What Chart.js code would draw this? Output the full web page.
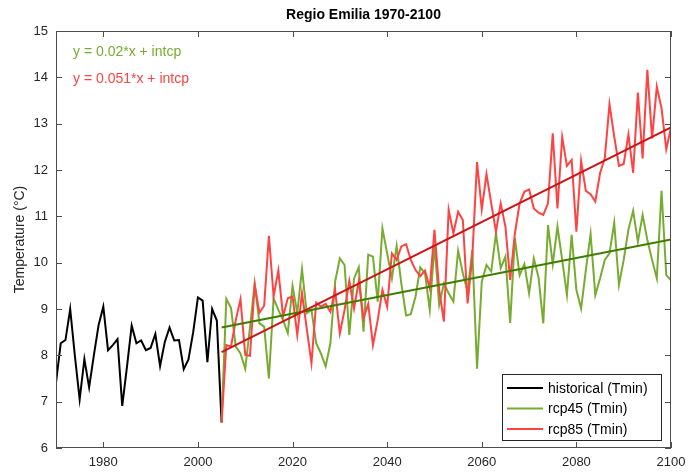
<!DOCTYPE html>
<html>
<head>
<meta charset="utf-8">
<script src="https://cdn.jsdelivr.net/npm/chart.js@4"></script>
<style>
  html, body { margin: 0; padding: 0; background: #fff; }
</style>
</head>
<body>
<canvas id="chartTmin" width="688" height="474"></canvas>
<script>
/*********************************/
// Regio Emilia Tmin chart       //
/*********************************/

// years
var histYears = [1970,1971,1972,1973,1974,1975,1976,1977,1978,1979,
  1980,1981,1982,1983,1984,1985,1986,1987,1988,1989,
  1990,1991,1992,1993,1994,1995,1996,1997,1998,1999,
  2000,2001,2002,2003,2004,2005];
var scenYears = [2005,2006,2007,2008,2009,2010,2011,2012,2013,2014,
  2015,2016,2017,2018,2019,2020,2021,2022,2023,2024,
  2025,2026,2027,2028,2029,2030,2031,2032,2033,2034,
  2035,2036,2037,2038,2039,2040,2041,2042,2043,2044,
  2045,2046,2047,2048,2049,2050,2051,2052,2053,2054,
  2055,2056,2057,2058,2059,2060,2061,2062,2063,2064,
  2065,2066,2067,2068,2069,2070,2071,2072,2073,2074,
  2075,2076,2077,2078,2079,2080,2081,2082,2083,2084,
  2085,2086,2087,2088,2089,2090,2091,2092,2093,2094,
  2095,2096,2097,2098,2099,2100];

// series values (deg C)
var historical = [7.41,8.26,8.33,9.0,7.98,7.05,7.92,7.31,8.0,8.65,
  9.05,8.11,8.22,8.35,6.91,7.75,8.64,8.26,8.32,8.11,
  8.16,8.46,7.77,8.29,8.6,8.32,8.33,7.7,7.91,8.5,
  9.25,9.18,7.85,9.0,8.75,6.55];
var rcp45 = [6.55,9.22,9.02,8.19,8.04,7.71,8.6,9.55,8.69,8.62,
  7.5,9.23,8.98,8.76,8.48,9.5,8.91,9.86,8.91,8.98,
  8.26,8.04,7.76,8.26,9.59,10.09,9.95,8.44,9.66,9.9,
  8.51,10.17,10.13,9.16,10.74,10.2,9.66,10.36,9.55,8.86,
  8.89,9.27,9.9,9.77,8.98,10.38,9.09,9.55,9.34,9.16,
  10.26,9.77,9.37,10.27,7.71,9.59,9.95,9.81,10.63,9.88,
  10.13,8.7,10.53,9.73,9.97,9.34,10.09,9.68,8.69,10.81,
  9.97,10.78,10.06,9.3,10.6,9.41,9.01,9.84,10.62,9.3,
  9.66,10.06,10.2,10.86,9.52,10.06,10.71,11.12,10.45,11.03,
  10.49,10.06,9.66,11.55,9.73,9.62];
var rcp85 = [6.55,8.22,8.19,8.76,9.21,8.01,7.99,9.52,8.92,9.07,
  10.58,9.27,9.83,8.84,9.23,9.27,8.44,9.34,8.58,7.83,
  9.14,9.05,9.11,8.94,9.41,8.47,8.98,9.61,9.01,9.6,
  8.8,9.11,8.22,8.76,9.41,9.05,10.2,10.06,10.35,10.4,
  10.06,9.84,9.71,9.83,9.45,10.71,9.41,8.73,11.14,10.63,
  11.1,10.92,9.12,10.13,12.17,11.15,11.91,11.28,10.67,11.28,
  10.78,9.63,10.63,11.28,11.53,11.58,11.17,11.08,11.03,11.28,
  12.79,11.17,12.71,12.09,12.22,10.67,12.2,11.55,11.48,11.32,
  11.93,12.25,13.42,12.72,12.09,12.13,12.77,11.94,13.67,12.25,
  14.16,12.68,13.8,13.33,12.45,12.92];

// linear fits (end points)
var trendYears = [2005, 2100];
var trend45 = [8.6, 10.5];
var trend85 = [8.07, 12.92];

// tick labels
var xTicks = [1980, 2000, 2020, 2040, 2060, 2080, 2100];
var yTicks = [6, 7, 8, 9, 10, 11, 12, 13, 14, 15];

var FONT = "'Liberation Sans', Arial, sans-serif";
var AXIS = '#4d4d4d';

function pts(xs, ys) {
  return xs.map(function (x, i) { return { x: x, y: ys[i] }; });
}

// frame, inner ticks, title, text notes and legend
var matlabLook = {
  id: 'matlabLook',
  afterDraw: function (chart) {
    var c = chart.ctx, a = chart.chartArea;
    var sx = chart.scales.x, sy = chart.scales.y;
    c.save();
    c.strokeStyle = AXIS;
    c.lineWidth = 1;
    c.strokeRect(Math.round(a.left) + 0.5, Math.round(a.top) + 0.5,
      Math.round(a.right - a.left) - 1, Math.round(a.bottom - a.top) - 1);
    c.beginPath();
    xTicks.forEach(function (v) {
      var px = Math.round(sx.getPixelForValue(v)) + 0.5;
      c.moveTo(px, a.bottom); c.lineTo(px, a.bottom - 6);
      c.moveTo(px, a.top); c.lineTo(px, a.top + 6);
    });
    yTicks.forEach(function (v) {
      var py = Math.round(sy.getPixelForValue(v)) + 0.5;
      c.moveTo(a.left, py); c.lineTo(a.left + 6, py);
      c.moveTo(a.right, py); c.lineTo(a.right - 6, py);
    });
    c.stroke();

    // title
    c.fillStyle = '#000';
    c.font = 'bold 14px ' + FONT;
    c.textAlign = 'center';
    c.textBaseline = 'middle';
    c.fillText('Regio Emilia 1970-2100', (a.left + a.right) / 2, 15);

    // fit notes
    c.font = '14px ' + FONT;
    c.textAlign = 'left';
    c.fillStyle = '#77AC30';
    c.fillText('y = 0.02*x + intcp', 73, 52);
    c.fillStyle = '#FF4242';
    c.fillText('y = 0.051*x + intcp', 73, 79);

    // legend
    var lx = 502, ly = 374, lw = 159, lh = 66;
    c.fillStyle = '#fff';
    c.fillRect(lx, ly, lw, lh);
    c.strokeStyle = '#262626';
    c.strokeRect(lx + 0.5, ly + 0.5, lw, lh);
    var items = chart.data.datasets.filter(function (d) { return d.inLegend; });
    items.forEach(function (d, i) {
      var y = ly + 14 + i * 20.5;
      c.strokeStyle = d.borderColor;
      c.lineWidth = 2;
      c.beginPath();
      c.moveTo(lx + 5, y); c.lineTo(lx + 41, y);
      c.stroke();
      c.fillStyle = '#000';
      c.fillText(d.label, lx + 46, y + 1);
    });
    c.restore();
  }
};

var ctx = document.getElementById('chartTmin');
var data = {
  datasets: [
    { label: 'historical (Tmin)', data: pts(histYears, historical), borderColor: '#000000', borderWidth: 2, order: 4, inLegend: true },
    { label: 'rcp45 (Tmin)', data: pts(scenYears, rcp45), borderColor: '#77AC30', borderWidth: 2, order: 3, inLegend: true },
    { label: 'rcp85 (Tmin)', data: pts(scenYears, rcp85), borderColor: '#FF4242', borderWidth: 2, order: 2, inLegend: true },
    { label: 'fit rcp45', data: pts(trendYears, trend45), borderColor: '#3E7D00', borderWidth: 2, order: 1 },
    { label: 'fit rcp85', data: pts(trendYears, trend85), borderColor: '#C81414', borderWidth: 2, order: 0 }
  ]
};

var chartTmin = new Chart(ctx, {
  type: 'line',
  data: data,
  options: {
    responsive: false,
    animation: false,
    devicePixelRatio: 1,
    elements: { point: { radius: 0 }, line: { tension: 0 } },
    layout: { padding: { left: 0, right: 17, top: 31, bottom: 0 } },
    plugins: {
      legend: { display: false },
      tooltip: { enabled: false },
      title: { display: false }
    },
    scales: {
      x: {
        type: 'linear', min: 1970, max: 2100,
        afterBuildTicks: function (s) { s.ticks = xTicks.map(function (v) { return { value: v }; }); },
        afterFit: function (s) { s.height = 26; s.paddingLeft = 0; s.paddingRight = 0; },
        grid: { display: false, drawTicks: false },
        border: { display: false },
        ticks: { color: '#262626', font: { family: FONT, size: 13 }, padding: 7, maxRotation: 0,
          callback: function (v) { return String(v); } }
      },
      y: {
        type: 'linear', min: 6, max: 15,
        afterBuildTicks: function (s) { s.ticks = yTicks.map(function (v) { return { value: v }; }); },
        afterFit: function (s) { s.width = 56; s.paddingTop = 0; s.paddingBottom = 0; },
        grid: { display: false, drawTicks: false },
        border: { display: false },
        ticks: { color: '#262626', font: { family: FONT, size: 13 }, padding: 8 },
        title: { display: true, text: 'Temperature (°C)', color: '#262626', font: { family: FONT, size: 14 }, padding: { top: 12, bottom: 0 } }
      }
    }
  },
  plugins: [matlabLook]
});
</script>
</body>
</html>
